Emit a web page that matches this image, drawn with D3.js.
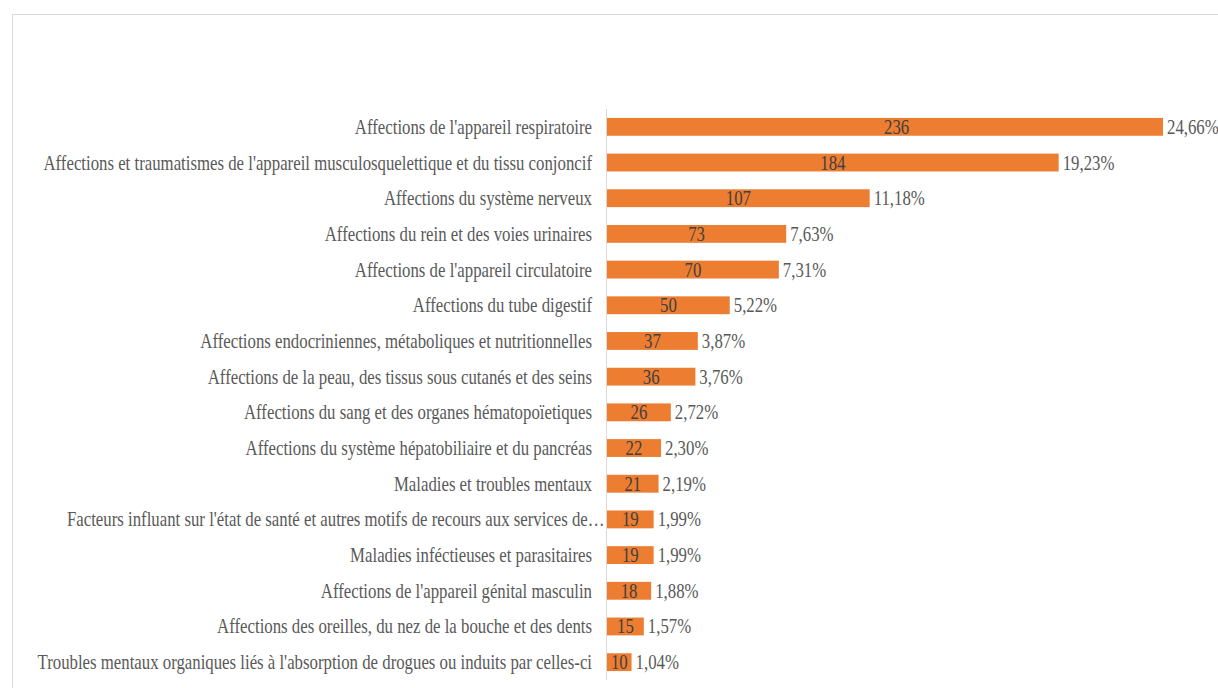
<!DOCTYPE html>
<html>
<head>
<meta charset="utf-8">
<script src="https://cdn.jsdelivr.net/npm/d3@7"></script>
<style>
  html, body { margin: 0; padding: 0; background: #ffffff; }
  svg { display: block; }
  text { font-family: "Liberation Serif", "Times New Roman", serif; }
</style>
</head>
<body>
<svg id="chart" width="1218" height="688"></svg>
<script>
const categories = [
  "Affections de l'appareil respiratoire",
  "Affections et traumatismes de l'appareil musculosquelettique et du tissu conjoncif",
  "Affections du système nerveux",
  "Affections du rein et des voies urinaires",
  "Affections de l'appareil circulatoire",
  "Affections du tube digestif",
  "Affections endocriniennes, métaboliques et nutritionnelles",
  "Affections de la peau, des tissus sous cutanés et des seins",
  "Affections du sang et des organes hématopoïetiques",
  "Affections du système hépatobiliaire et du pancréas",
  "Maladies et troubles mentaux",
  "Facteurs influant sur l'état de santé et autres motifs de recours aux services de…",
  "Maladies inféctieuses et parasitaires",
  "Affections de l'appareil génital masculin",
  "Affections des oreilles, du nez de la bouche et des dents",
  "Troubles mentaux organiques liés à l'absorption de drogues ou induits par celles-ci"
];
const counts = [236, 184, 107, 73, 70, 50, 37, 36, 26, 22, 21, 19, 19, 18, 15, 10];
const percents = ["24,66%", "19,23%", "11,18%", "7,63%", "7,31%", "5,22%", "3,87%", "3,76%",
                  "2,72%", "2,30%", "2,19%", "1,99%", "1,99%", "1,88%", "1,57%", "1,04%"];
const axisMax = 226.5;

const svg = d3.select("#chart");
const W = 1218, H = 688;
const plot = { left: 607, right: 1163, top: 109, bottom: 680 };
const FS = 20, SX = 0.84;
const barColor = "#ED7D31";
const labelColor = "#595959";
const valueColor = "#404040";

svg.append("rect").attr("width", W).attr("height", H).attr("fill", "#fff");
// chart frame
svg.append("rect")
  .attr("x", 12.5).attr("y", 14.5)
  .attr("width", W + 20).attr("height", H + 20)
  .attr("fill", "none").attr("stroke", "#d9d9d9").attr("stroke-width", 1);

const x = d3.scaleLinear().domain([0, axisMax]).range([plot.left, plot.right]);
const xc = x.copy().clamp(true);
const y = d3.scaleBand().domain(categories).range([plot.top, plot.bottom])
  .paddingInner(0.5).paddingOuter(0.25);

const data = categories.map((c, i) => ({ c, v: counts[i], p: percents[i] }));

// bars
svg.append("g").selectAll("rect").data(data).join("rect")
  .attr("x", xc(0))
  .attr("y", d => y(d.c))
  .attr("width", d => xc(d.v) - xc(0))
  .attr("height", y.bandwidth())
  .attr("fill", barColor);

// vertical axis
const yAxis = d3.axisLeft(y).tickSize(0).tickPadding(15).tickFormat(() => "");
const ag = svg.append("g").attr("transform", `translate(${plot.left - 0.5},0)`).call(yAxis);
ag.select(".domain").attr("stroke", "#d9d9d9").attr("d", `M0,${plot.top}V${plot.bottom}`);

// category labels
const lab = svg.append("g").selectAll("g").data(data).join("g")
  .attr("transform", d => `translate(${plot.left - 15},${y(d.c) + y.bandwidth() / 2}) scale(${SX},1)`);
lab.append("text")
  .attr("text-anchor", "end")
  .attr("dy", "0.35em")
  .attr("font-size", FS)
  .attr("fill", labelColor)
  .attr("dx", d => d.c.endsWith("…") ? 15 : 0)
  .text(d => d.c);

// value labels inside bars
svg.append("g").selectAll("g").data(data).join("g")
  .attr("transform", d => `translate(${(x(0) + x(d.v)) / 2},${y(d.c) + y.bandwidth() / 2}) scale(${SX},1)`)
  .append("text")
  .attr("text-anchor", "middle")
  .attr("dy", "0.35em")
  .attr("font-size", FS)
  .attr("fill", valueColor)
  .text(d => d.v);

// percent labels
svg.append("g").selectAll("g").data(data).join("g")
  .attr("transform", d => `translate(${xc(d.v) + 4},${y(d.c) + y.bandwidth() / 2}) scale(${SX},1)`)
  .append("text")
  .attr("text-anchor", "start")
  .attr("dy", "0.35em")
  .attr("font-size", FS)
  .attr("fill", labelColor)
  .text(d => d.p);
</script>
</body>
</html>
